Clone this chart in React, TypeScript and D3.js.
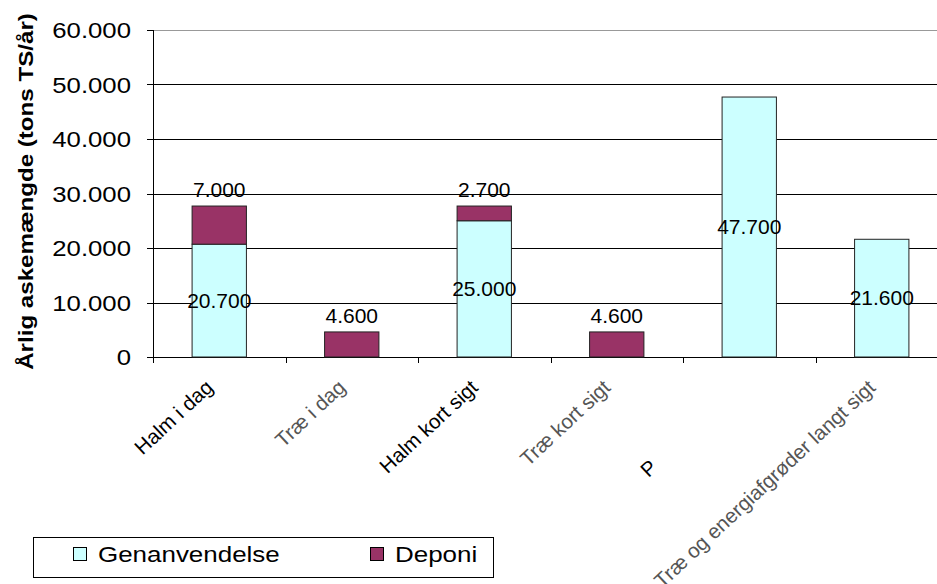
import React from "react";
import * as d3 from "d3";

const categories = ["Halm i dag", "Træ i dag", "Halm kort sigt", "Træ kort sigt", "P", "Træ og energiafgrøder langt sigt"];
const genanvendelse = [20700, 0, 25000, 0, 47700, 21600];
const deponi = [7000, 4600, 2700, 4600, 0, 0];
const yTicks = [0, 10000, 20000, 30000, 40000, 50000, 60000];
const seriesNames = ["Genanvendelse", "Deponi"];
const seriesColors = ["#CCFFFF", "#993366"];
const labelColors = ["#000", "#555", "#000", "#555", "#000", "#555"];

const W = 937;
const H = 584;
const FONT = "Arial, 'Liberation Sans', sans-serif";

const fmt = (v: number) => d3.format(",")(v).replace(/,/g, ".");

export default function App() {
  const x = d3.scaleBand<string>().domain(categories).range([153, 948]).padding(0);
  const y = d3.scaleLinear().domain([0, 60000]).range([357, 30]);
  const bw = x.bandwidth() * 0.41;

  const stack = d3.stack<any>().keys(["g", "d"])(
    categories.map((c, i) => ({ c, g: genanvendelse[i], d: deponi[i] }))
  );

  return (
    <svg width={W} height={H} style={{ position: "absolute", left: 0, top: 0 }} fontFamily={FONT}>
      <rect x={0} y={0} width={W} height={H} fill="#fff" />
      {/* gridlines */}
      {yTicks.map((t) => (
        <line key={t} x1={153} x2={W} y1={Math.round(y(t)) + 0.5} y2={Math.round(y(t)) + 0.5}
          stroke={t === 60000 ? "#999" : "#000"} strokeWidth={1} />
      ))}
      {/* y axis */}
      <line x1={153.5} x2={153.5} y1={30} y2={357} stroke="#000" />
      {yTicks.map((t) => (
        <g key={"yt" + t}>
          <line x1={147} x2={153} y1={Math.round(y(t)) + 0.5} y2={Math.round(y(t)) + 0.5} stroke="#000" />
          <g transform={`translate(131,${y(t) + 8}) scale(1.17,1)`}>
            <text textAnchor="end" fontSize={22} fill="#000">{fmt(t)}</text>
          </g>
        </g>
      ))}
      {/* x ticks */}
      {d3.range(categories.length + 1).map((i) => {
        const xx = Math.round(153 + i * x.step()) + 0.5;
        return <line key={"xt" + i} x1={xx} x2={xx} y1={357} y2={363} stroke="#000" />;
      })}
      {/* bars */}
      {stack.map((s, si) => (
        <g key={si}>
          {s.map((d, i) => {
            if (d[1] - d[0] <= 0) return null;
            const cx = (x(categories[i]) as number) + x.bandwidth() / 2;
            return (
              <rect key={i} x={cx - bw / 2} y={y(d[1])} width={bw} height={y(d[0]) - y(d[1])}
                fill={seriesColors[si]} stroke="#222" strokeWidth={1} />
            );
          })}
        </g>
      ))}
      {/* data labels */}
      {stack.map((s, si) =>
        s.map((d, i) => {
          const v = d[1] - d[0];
          if (v <= 0) return null;
          const cx = (x(categories[i]) as number) + x.bandwidth() / 2;
          const ty = si === 0 ? y((d[0] + d[1]) / 2) + 7 : y(d[1]) - 9;
          return (
            <text key={si + "-" + i} x={cx} y={ty} textAnchor="middle" fontSize={21} fill="#000">
              {fmt(v)}
            </text>
          );
        })
      )}
      {/* x labels */}
      {categories.map((c, i) => {
        const cx = (x(c) as number) + x.bandwidth() / 2 - 5;
        const truncated = c.length === 1;
        return (
          <text key={c} transform={`translate(${cx},389) rotate(-43)`} x={truncated ? -131 : 0}
            textAnchor={truncated ? "start" : "end"} fontSize={20.5} fill={labelColors[i]}>
            {c}
          </text>
        );
      })}
      {/* y title */}
      <g transform="translate(33,191.5) rotate(-90) scale(1.15,1)">
        <text textAnchor="middle" fontSize={21} fontWeight="bold" fill="#000">
          Årlig askemængde (tons TS/år)
        </text>
      </g>
      {/* legend */}
      <rect x={33.5} y={537.5} width={460} height={40} fill="#fff" stroke="#000" />
      {seriesNames.map((n, i) => {
        const lx = i === 0 ? 73 : 370;
        return (
          <g key={n}>
            <rect x={lx + 0.5} y={547.5} width={13} height={13} fill={seriesColors[i]} stroke="#000" />
            <g transform={`translate(${lx + 25},562) scale(1.18,1)`}>
              <text fontSize={22} fill="#000">{n}</text>
            </g>
          </g>
        );
      })}
    </svg>
  );
}
